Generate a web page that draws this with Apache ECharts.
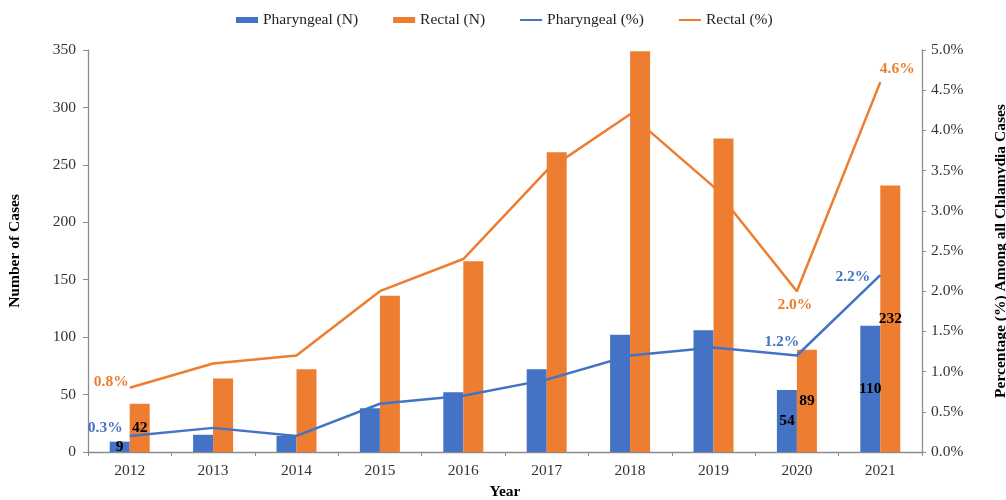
<!DOCTYPE html>
<html>
<head>
<meta charset="utf-8">
<script src="https://cdn.jsdelivr.net/npm/echarts@6/dist/echarts.min.js"></script>
<style>
html,body{margin:0;padding:0;background:#fff;}
#chart{width:1006px;height:500px;}
</style>
</head>
<body>
<div id="chart"></div>
<script>
// ---- data ----
const years = ['2012','2013','2014','2015','2016','2017','2018','2019','2020','2021'];
const pharyngealN = [9, 15, 14, 38, 52, 72, 102, 106, 54, 110];
const rectalN = [42, 64, 72, 136, 166, 261, 349, 273, 89, 232];
const pharyngealPct = [0.2, 0.3, 0.2, 0.6, 0.7, 0.9, 1.2, 1.3, 1.2, 2.2];
const rectalPct = [0.8, 1.1, 1.2, 2.0, 2.4, 3.5, 4.2, 3.3, 2.0, 4.6];
const pharyngealPctText = ['0.3%', '', '', '', '', '', '', '', '1.2%', '2.2%'];
const rectalPctText = ['0.8%', '', '', '', '', '', '', '', '2.0%', '4.6%'];
const labeledBarYears = ['2012', '2020', '2021'];
const seriesNames = ['Pharyngeal (N)', 'Rectal (N)', 'Pharyngeal (%)', 'Rectal (%)'];
const leftTicks = {min: 0, max: 350, interval: 50};
const rightTicks = {min: 0, max: 5, interval: 0.5};

// ---- styles ----
const FONT = '"Liberation Serif", "Times New Roman", serif';
const BLUE = '#4472C4';
const ORANGE = '#ED7D31';
const AXIS = '#8c8c8c';
const FS = 15.5;
const LINE_ICON = 'path://M0,0H22V2H0Z';

const barLabel = {show: true, position: 'inside', color: '#000', fontWeight: 'bold',
  fontFamily: FONT, fontSize: FS};

function barData(vals) {
  return vals.map((v, i) => labeledBarYears.includes(years[i])
    ? {value: v, label: barLabel} : {value: v});
}

const bluePos = {
  0: {position: 'left', distance: 7, offset: [0, -8]},
  8: {position: 'top', distance: 5, offset: [-15, 0]},
  9: {position: 'left', distance: 10, offset: [0, 2]}
};
const orangePos = {
  0: {position: 'left', distance: 1, offset: [0, -6]},
  8: {position: 'bottom', distance: 6, offset: [-2, 0]},
  9: {position: 'top', distance: 5, offset: [17, 0]}
};

function lineData(vals, texts, posMap, color) {
  return vals.map((v, i) => texts[i]
    ? {value: v, label: Object.assign({show: true, formatter: texts[i], color: color,
        fontWeight: 'bold', fontFamily: FONT, fontSize: FS}, posMap[i])}
    : {value: v});
}

const chart = echarts.init(document.getElementById('chart'), null, {renderer: 'canvas'});
chart.setOption({
  animation: false,
  textStyle: {fontFamily: FONT},
  color: [BLUE, ORANGE, BLUE, ORANGE],
  legend: {
    top: 7, left: 231, itemGap: 35, itemWidth: 22, itemHeight: 6,
    textStyle: {fontFamily: FONT, fontSize: FS, color: '#222'},
    data: [
      {name: seriesNames[0], icon: 'rect'},
      {name: seriesNames[1], icon: 'rect'},
      {name: seriesNames[2], icon: LINE_ICON, itemStyle: {color: BLUE}},
      {name: seriesNames[3], icon: LINE_ICON, itemStyle: {color: ORANGE}}
    ]
  },
  grid: {left: 88, right: 84, top: 50, bottom: 48, containLabel: false,
    outerBoundsMode: 'none'},
  xAxis: {
    type: 'category', data: years, boundaryGap: true,
    name: 'Year', nameLocation: 'middle', nameGap: 31,
    nameTextStyle: {fontFamily: FONT, fontSize: FS, fontWeight: 'bold', color: '#000'},
    axisLine: {lineStyle: {color: AXIS, width: 1.3}},
    axisTick: {show: true, alignWithLabel: false, length: 4, lineStyle: {color: AXIS}},
    axisLabel: {fontFamily: FONT, fontSize: FS, color: '#333', margin: 11}
  },
  yAxis: [
    {
      type: 'value', min: leftTicks.min, max: leftTicks.max, interval: leftTicks.interval,
      name: 'Number of Cases', nameLocation: 'middle', nameGap: 65, nameRotate: 90,
      nameTextStyle: {fontFamily: FONT, fontSize: FS, fontWeight: 'bold', color: '#000'},
      axisLine: {show: true, lineStyle: {color: AXIS, width: 1.3}},
      axisTick: {show: true, length: 5, lineStyle: {color: AXIS}},
      splitLine: {show: false},
      axisLabel: {fontFamily: FONT, fontSize: FS, color: '#333', margin: 12}
    },
    {
      type: 'value', min: rightTicks.min, max: rightTicks.max, interval: rightTicks.interval,
      name: 'Percentage (%) Among all Chlamydia Cases', nameLocation: 'middle', nameGap: 71,
      nameRotate: 90,
      nameTextStyle: {fontFamily: FONT, fontSize: FS, fontWeight: 'bold', color: '#000'},
      axisLine: {show: true, lineStyle: {color: AXIS, width: 1.3}},
      axisTick: {show: true, length: 4, lineStyle: {color: AXIS}},
      splitLine: {show: false},
      axisLabel: {fontFamily: FONT, fontSize: FS, color: '#333', margin: 9,
        formatter: v => v.toFixed(1) + '%'}
    }
  ],
  series: [
    {name: seriesNames[0], type: 'bar', data: barData(pharyngealN), barWidth: 20, barGap: '0%',
      itemStyle: {color: BLUE}},
    {name: seriesNames[1], type: 'bar', data: barData(rectalN), barWidth: 20, barGap: '0%',
      itemStyle: {color: ORANGE}},
    {name: seriesNames[2], type: 'line', yAxisIndex: 1, symbol: 'circle', symbolSize: 0.1,
      showSymbol: true,
      data: lineData(pharyngealPct, pharyngealPctText, bluePos, BLUE),
      lineStyle: {color: BLUE, width: 2.5}, itemStyle: {color: BLUE}, z: 5},
    {name: seriesNames[3], type: 'line', yAxisIndex: 1, symbol: 'circle', symbolSize: 0.1,
      showSymbol: true,
      data: lineData(rectalPct, rectalPctText, orangePos, ORANGE),
      lineStyle: {color: ORANGE, width: 2.5}, itemStyle: {color: ORANGE}, z: 5}
  ]
});
</script>
</body>
</html>
